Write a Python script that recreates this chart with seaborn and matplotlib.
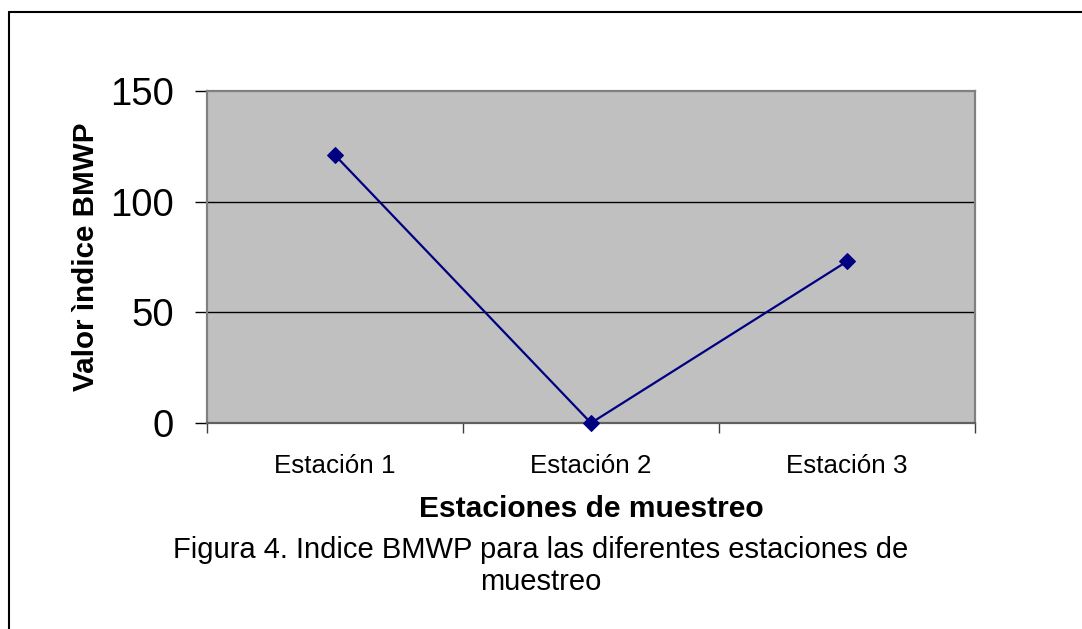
import matplotlib
matplotlib.use("Agg")
import matplotlib.pyplot as plt
import seaborn as sns
import pandas as pd
from matplotlib.lines import Line2D
from matplotlib.ticker import FixedLocator

estaciones = ["Estación 1", "Estación 2", "Estación 3"]
valores = [121, 0, 73]
y_ticks = [0, 50, 100, 150]

df = pd.DataFrame({"Estacion": estaciones, "BMWP": valores})

sns.set_style("white")
plt.rcParams["font.family"] = ["Liberation Sans", "DejaVu Sans"]
plt.rcParams["text.color"] = "black"
plt.rcParams["axes.labelcolor"] = "black"
plt.rcParams["xtick.color"] = "black"
plt.rcParams["ytick.color"] = "black"

W, H = 1082, 629
fig = plt.figure(figsize=(W / 100, H / 100), dpi=100)
ax = fig.add_axes([207 / W, 1 - 423 / H, (975 - 207) / W, (423 - 91) / H])
ax.set_facecolor("#C0C0C0")

sns.lineplot(data=df, x="Estacion", y="BMWP", ax=ax, color="#000080",
             linewidth=1.6, marker="D", markersize=8, markeredgecolor="#000080",
             sort=False, zorder=5)
for ln in ax.lines:
    ln.set_clip_on(False)

ax.set_xlim(-0.5, 2.5)
ax.set_ylim(0, 150)
ax.set_yticks(y_ticks)
ax.set_yticklabels([str(v) for v in y_ticks], fontsize=27.5)
ax.set_xticks(range(len(estaciones)))
ax.set_xticklabels(estaciones, fontsize=18.7)
ax.xaxis.set_minor_locator(FixedLocator([-0.5, 0.5, 1.5, 2.5]))
ax.tick_params(axis="x", which="both", bottom=True)
ax.tick_params(axis="y", which="both", left=True)
ax.tick_params(axis="x", which="major", length=0, pad=22.5, labelcolor="black")
ax.tick_params(axis="x", which="minor", length=7, width=1, color="#404040", direction="out")
ax.tick_params(axis="y", which="major", length=9, width=1, color="black", pad=15,
               direction="out", labelcolor="black")

for v in y_ticks[1:-1]:
    ax.axhline(v, color="black", linewidth=1, zorder=1)

for s in ax.spines.values():
    s.set_color("#808080")
    s.set_linewidth(1.6)
ax.spines["bottom"].set_color("#606060")

ax.set_xlabel("Estaciones de muestreo", fontsize=21.6, fontweight="bold", va="center")
ax.xaxis.set_label_coords(0.5, (423 - 509) / 332)
ax.set_ylabel("Valor ìndice BMWP", fontsize=21.3, fontweight="bold", va="center")
ax.yaxis.set_label_coords((86 - 207) / 768, 0.5)

fig.text(541 / W, 1 - 550 / H, "Figura 4. Indice BMWP para las diferentes estaciones de",
         ha="center", va="center", fontsize=21)
fig.text(541 / W, 1 - 582 / H, "muestreo", ha="center", va="center", fontsize=21)

# page border (top and left visible)
fig.add_artist(Line2D([9 / W, 1.0], [1 - 12 / H, 1 - 12 / H], transform=fig.transFigure,
                      color="black", linewidth=1.5))
fig.add_artist(Line2D([9 / W, 9 / W], [1 - 12 / H, 0.0], transform=fig.transFigure,
                      color="black", linewidth=1.5))

fig.savefig("out.png", dpi=100)
